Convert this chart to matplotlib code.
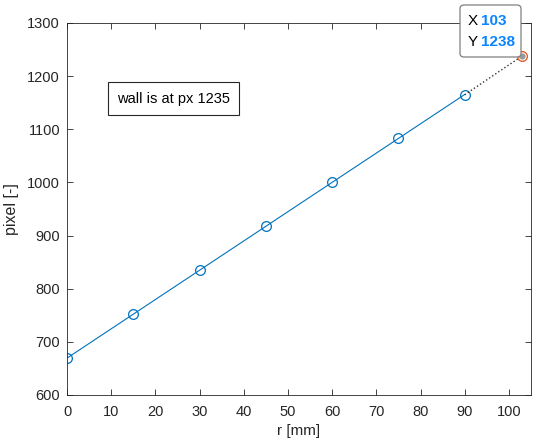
import numpy as np
import matplotlib.pyplot as plt
from matplotlib.patches import FancyBboxPatch

plt.rcParams['font.family'] = ['Liberation Sans', 'DejaVu Sans']

r_mm = [0, 15, 30, 45, 60, 75, 90]
pixel = [669, 752, 835, 918, 1000, 1083, 1165]
wall_r = 103
wall_px = 1238

fig = plt.figure(figsize=(5.36, 4.41), dpi=100)
ax = fig.add_axes([67 / 536, 46 / 441, 464 / 536, 372 / 441])

blue = '#0072BD'
orange = '#D95319'

# linear fit and extrapolation to the wall
p = np.polyfit(r_mm, pixel, 1)
ax.plot(r_mm, np.polyval(p, r_mm), '-', color=blue, lw=0.8)
ax.plot(r_mm, pixel, 'o', color=blue, mfc='none', ms=7, mew=0.9)
ax.plot([r_mm[-1], wall_r], [pixel[-1], wall_px], ':', color='#333333', lw=1)
ax.plot(wall_r, wall_px, 'o', color=orange, mfc='none', ms=7, mew=0.9)
ax.plot(wall_r, wall_px, 'o', color='#999999', ms=4.5, mew=0)

ax.set_xlim(0, 105)
ax.set_ylim(600, 1300)
ax.set_xticks(np.arange(0, 101, 10))
ax.set_yticks(np.arange(600, 1301, 100))
ax.tick_params(direction='in', length=4, width=0.6, labelsize=10.5, colors='#262626',
               top=True, right=True)
ax.tick_params(axis='x', pad=7)
ax.tick_params(axis='y', pad=5)
for s in ax.spines.values():
    s.set_linewidth(0.6)
    s.set_color('#262626')
ax.set_xlabel('r [mm]', fontsize=11, color='#262626', labelpad=4)
ax.set_ylabel('pixel [-]', fontsize=11.5, color='#262626', labelpad=6)

ax.text(0.108, 0.797, 'wall is at px 1235', transform=ax.transAxes, fontsize=10.5,
        va='center', ha='left',
        bbox=dict(boxstyle='square,pad=0.62', fc='white', ec='#262626', lw=0.8))

# data tip
tip = FancyBboxPatch((460 / 536, 384 / 441), 61 / 536, 52 / 441,
                     boxstyle='round,pad=0,rounding_size=0.008',
                     transform=fig.transFigure, fc='white', ec='#808080', lw=0.9,
                     zorder=5, clip_on=False)
fig.patches.append(tip)
fig.text(468 / 536, 420 / 441, 'X', fontsize=11, va='center', zorder=6)
fig.text(481 / 536, 420 / 441, str(wall_r), fontsize=11, va='center', color='#0a84ff',
         fontweight='bold', zorder=6)
fig.text(468 / 536, 399 / 441, 'Y', fontsize=11, va='center', zorder=6)
fig.text(481 / 536, 399 / 441, str(wall_px), fontsize=11, va='center', color='#0a84ff',
         fontweight='bold', zorder=6)

fig.savefig('out.png', dpi=100)
